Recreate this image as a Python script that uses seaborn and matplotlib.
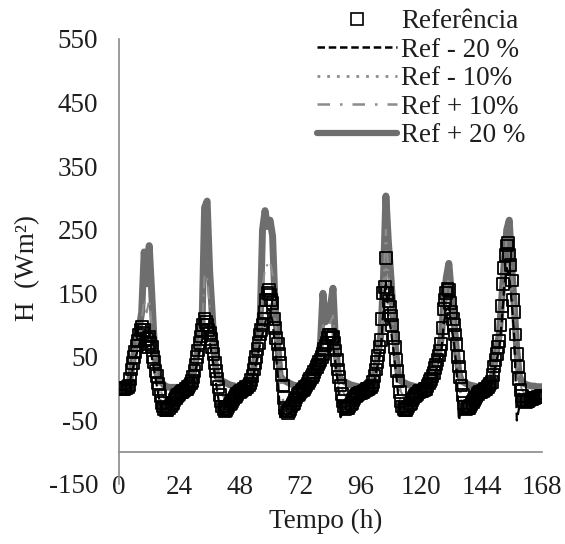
import matplotlib
matplotlib.use("Agg")
import matplotlib.pyplot as plt
from matplotlib.lines import Line2D
import seaborn as sns
import pandas as pd

# ---------------- data ----------------
# lines: hourly, 0..168 h
tempo = list(range(169))
# reference squares: every 30 min, 0..168 h
tempo_ref = [i / 2 for i in range(337)]

referencia = (
    [0, 1, 0, -1, 0, 1, 1, 2, 5, 15, 30, 40, 50, 58, 68, 75, 85, 92, 97, 88,
     92, 70, 78, 65, 82, 72, 65, 50, 42, 28, 20, 8, 0, -12, -22, -28, -32, -34, -33, -31,
     -30, -27, -25, -22, -18, -15, -12, -10]
    + [-8, -6, -5, -4, -3, -1, 0, 2, 5, 8, 12, 18, 28, 38, 50, 60, 72, 82, 92, 100,
       110, 105, 100, 92, 88, 78, 65, 55, 40, 28, 15, 2, -10, -20, -28, -32, -35, -33, -30, -28,
       -25, -22, -20, -17, -14, -11, -8, -6]
    + [-5, -4, -3, -1, 0, 2, 3, 5, 8, 14, 20, 30, 40, 50, 62, 72, 85, 92, 100, 110,
       120, 140, 150, 155, 148, 140, 135, 110, 95, 80, 70, 55, 40, 22, 5, -15, -30, -36, -38, -35,
       -32, -28, -25, -22, -18, -14, -10, -8]
    + [-6, -4, -2, 0, 2, 5, 8, 12, 15, 18, 22, 26, 30, 34, 38, 42, 45, 50, 55, 62,
       68, 72, 80, 84, 85, 80, 82, 72, 60, 45, 30, 18, 5, -8, -20, -28, -32, -31, -30, -28,
       -25, -22, -18, -15, -12, -10, -8, -7]
    + [-7, -6, -5, -4, -3, -1, 0, 1, 2, 5, 10, 20, 30, 42, 52, 65, 77, 110, 150, 160,
       205, 150, 138, 128, 115, 100, 80, 65, 45, 28, 12, -5, -20, -28, -32, -33, -33, -30, -28, -25,
       -22, -18, -15, -12, -10, -8, -5, -4]
    + [-4, -4, -3, -1, 0, 4, 8, 12, 15, 20, 25, 32, 38, 45, 52, 60, 70, 95, 125, 140,
       150, 157, 155, 135, 120, 110, 100, 85, 70, 50, 35, 18, 5, -10, -22, -28, -32, -31, -30, -27,
       -24, -21, -18, -15, -12, -9, -6, -5]
    + [-5, -4, -3, -1, 0, 2, 5, 8, 10, 22, 35, 45, 55, 65, 75, 100, 130, 165, 190, 210,
       225, 230, 210, 195, 170, 140, 120, 85, 55, 35, 15, -2, -12, -18, -20, -21, -20, -19, -18, -17,
       -16, -15, -15, -14, -14, -13, -13, -12]
    + [-12]
)

ref_menos20 = (
    [-2, -2, -2, -1, 3, 24, 40, 55, 70, 78, 75, 65, 68, 50, 28, 5, -18, -34, -40, -38, -36, -30, -24, -18]
    + [-12, -9, -7, -4, 1, 8, 22, 40, 60, 76, 90, 84, 72, 50, 25, -5, -28, -40, -40, -36, -30, -24, -18, -12]
    + [-9, -7, -4, -1, 4, 16, 32, 50, 70, 85, 100, 125, 122, 105, 65, 25, -45, -38, -40, -42, -36, -29, -22, -14]
    + [-9, -6, -2, 4, 11, 18, 24, 30, 37, 45, 56, 66, 70, 66, 40, 5, -45, -36, -38, -35, -30, -22, -16, -12]
    + [-12, -9, -7, -4, -2, 6, 24, 42, 62, 125, 170, 112, 92, 60, 25, -15, -40, -38, -37, -32, -26, -19, -14, -9]
    + [-9, -7, -4, 4, 11, 20, 30, 42, 58, 102, 124, 128, 96, 75, 35, -50, -30, -35, -37, -34, -28, -22, -16, -10]
    + [-9, -7, -4, 1, 6, 28, 45, 62, 105, 160, 190, 175, 135, 80, -50, -28, -30, -28, -26, -24, -22, -20, -18, -17]
    + [-16]
)

ref_menos10 = (
    [-1, -1, -1, 0, 4, 27, 45, 62, 78, 88, 84, 72, 75, 58, 36, 15, -8, -28, -36, -36, -33, -28, -21, -15]
    + [-10, -7, -5, -2, 3, 10, 25, 45, 66, 84, 100, 92, 80, 58, 34, 8, -18, -34, -38, -34, -28, -22, -16, -10]
    + [-7, -5, -2, 1, 6, 18, 36, 56, 77, 92, 110, 138, 135, 120, 82, 55, 20, -15, -36, -40, -34, -27, -20, -12]
    + [-7, -4, 0, 6, 13, 20, 27, 34, 41, 50, 62, 73, 78, 74, 50, 18, -15, -30, -35, -33, -28, -20, -14, -10]
    + [-10, -7, -5, -2, 0, 8, 27, 47, 70, 138, 188, 125, 104, 70, 35, 0, -28, -36, -35, -30, -24, -17, -12, -7]
    + [-7, -5, -2, 6, 13, 22, 34, 47, 64, 114, 138, 142, 108, 88, 55, 15, -20, -32, -35, -32, -26, -20, -14, -8]
    + [-7, -5, -2, 3, 8, 31, 50, 68, 118, 175, 207, 192, 152, 100, 30, -15, -25, -25, -23, -21, -19, -17, -16, -15]
    + [-14]
)

ref_mais10 = (
    [1, 1, 1, 2, 5, 31, 52, 72, 90, 108, 140, 120, 140, 100, 55, 22, 6, -8, -15, -16, -14, -12, -8, -5]
    + [-3, -2, 0, 2, 6, 13, 30, 52, 76, 98, 180, 175, 130, 90, 42, 16, 2, -10, -15, -12, -10, -8, -5, -3]
    + [-2, 0, 1, 4, 9, 21, 42, 66, 90, 160, 190, 195, 200, 180, 110, 70, 30, 8, -10, -15, -12, -10, -7, -4]
    + [-2, 0, 3, 9, 16, 23, 32, 41, 55, 100, 85, 95, 105, 115, 65, 28, 10, -5, -12, -12, -10, -7, -5, -3]
    + [-3, -2, 0, 2, 3, 11, 32, 55, 80, 160, 250, 180, 140, 95, 50, 16, -5, -12, -13, -11, -9, -6, -4, -2]
    + [-2, 0, 1, 9, 16, 26, 40, 55, 75, 130, 160, 175, 135, 105, 65, 30, 8, -8, -13, -12, -10, -7, -5, -2]
    + [-2, 0, 1, 5, 11, 36, 57, 80, 135, 195, 238, 238, 180, 125, 58, 17, -2, -7, -8, -7, -6, -6, -5, -5]
    + [-5]
)

ref_mais20 = (
    [2, 2, 2, 3, 6, 32, 55, 75, 95, 120, 215, 165, 225, 150, 70, 25, 15, 10, 5, 3, 2, 2, 2, 2]
    + [2, 2, 3, 5, 8, 15, 32, 55, 80, 105, 285, 295, 185, 120, 45, 18, 14, 12, 10, 8, 6, 5, 4, 3]
    + [3, 3, 3, 5, 10, 22, 45, 70, 95, 250, 280, 255, 265, 240, 130, 70, 20, 15, 12, 10, 8, 6, 5, 4]
    + [3, 3, 5, 10, 18, 25, 35, 45, 70, 150, 105, 110, 130, 158, 70, 25, 15, 12, 10, 8, 6, 5, 4, 3]
    + [3, 3, 3, 4, 5, 12, 35, 58, 85, 170, 303, 230, 175, 110, 55, 20, 12, 10, 8, 6, 5, 4, 3, 3]
    + [3, 3, 3, 10, 18, 28, 42, 58, 80, 135, 175, 197, 150, 110, 60, 25, 12, 10, 8, 6, 5, 4, 3, 3]
    + [3, 3, 3, 6, 12, 38, 60, 85, 140, 200, 250, 265, 190, 130, 60, 20, 10, 8, 6, 5, 4, 4, 3, 3]
    + [3]
)

x_ticks = [0, 24, 48, 72, 96, 120, 144, 168]
y_ticks = [-150, -50, 50, 150, 250, 350, 450, 550]
legend_labels = ["Referência", "Ref - 20 %", "Ref - 10%", "Ref + 10%", "Ref + 20 %"]

df = pd.DataFrame({
    "t": tempo,
    "m20": ref_menos20,
    "m10": ref_menos10,
    "p10": ref_mais10,
    "p20": ref_mais20,
})
df_ref = pd.DataFrame({"t": tempo_ref, "ref": referencia})

# ---------------- style ----------------
sns.set_style("white")
plt.rcParams["font.family"] = ["Liberation Serif", "DejaVu Serif"]
FS = 19.5
TXT = "#1e1e1e"
AX_COL = "#8a8a8a"
GREY_THICK = "#6e6e6e"
GREY = "#8c8c8c"

fig = plt.figure(figsize=(5.65, 5.44), dpi=100)
W, H = 565, 544
left, right, top, bottom = 119, 542, 39, 484
ax = fig.add_axes([left / W, 1 - bottom / H, (right - left) / W, (bottom - top) / H])

sns.lineplot(data=df, x="t", y="p20", ax=ax, color=GREY_THICK, lw=5,
             estimator=None, legend=False, zorder=2, solid_capstyle="round",
             solid_joinstyle="round")
sns.lineplot(data=df, x="t", y="p10", ax=ax, color=GREY, lw=1.5,
             estimator=None, legend=False, zorder=3, linestyle=(0, (6, 3, 1, 3)))
sns.lineplot(data=df, x="t", y="m10", ax=ax, color=GREY, lw=1.8,
             estimator=None, legend=False, zorder=3, linestyle=(0, (1, 2.5)))
sns.lineplot(data=df, x="t", y="m20", ax=ax, color="black", lw=1.6,
             estimator=None, legend=False, zorder=4, linestyle=(0, (4, 2)))
sns.scatterplot(data=df_ref, x="t", y="ref", ax=ax, marker="s", s=72,
                fc="none", ec="black", linewidth=1.3, legend=False, zorder=5)

# spines first (moving a spine resets tick properties)
for s in ["top", "right"]:
    ax.spines[s].set_visible(False)
ax.spines["bottom"].set_position(("data", -100))
for s in ["left", "bottom"]:
    ax.spines[s].set_color(AX_COL)
    ax.spines[s].set_linewidth(1.2)

ax.set_xlim(0, 168)
ax.set_ylim(-150, 550)
ax.set_xticks(x_ticks)
ax.set_yticks(y_ticks)
ax.set_xticklabels([str(v) for v in x_ticks])
ax.set_yticklabels([str(v) for v in y_ticks])
ax.set_xlabel("")
ax.set_ylabel("")

ax.tick_params(axis="x", direction="out", length=4, width=1.1, color=AX_COL,
               pad=12.5, labelcolor=TXT, labelsize=FS)
ax.tick_params(axis="y", direction="out", length=6, width=1.1, color=AX_COL,
               pad=9, labelcolor=TXT, labelsize=FS)
ax.patch.set_alpha(0)

fig.text(28 / W, 1 - 268 / H, "H  (Wm²)", rotation=90, ha="center", va="center",
         fontsize=FS, color=TXT)
fig.text(326 / W, 1 - 521 / H, "Tempo (h)", ha="center", va="center",
         fontsize=FS, color=TXT)

handles = [
    Line2D([], [], marker="s", ls="none", mfc="none", mec="black", ms=8, mew=1.2),
    Line2D([], [], color="black", lw=1.8, ls=(0, (3, 1.5))),
    Line2D([], [], color=GREY, lw=2.0, ls=(0, (1, 2.5))),
    Line2D([], [], color=GREY, lw=1.8, ls=(0, (5, 4, 1, 4))),
    Line2D([], [], color=GREY_THICK, lw=4.5, solid_capstyle="round"),
]
fig.legend(handles, legend_labels, loc="upper left",
           bbox_to_anchor=(317 / W, 1 - 9 / H), frameon=False,
           handlelength=2.95, handletextpad=0.15, labelspacing=0.13,
           borderpad=0, borderaxespad=0, fontsize=FS,
           labelcolor=TXT)

fig.savefig("out.png", dpi=100)
